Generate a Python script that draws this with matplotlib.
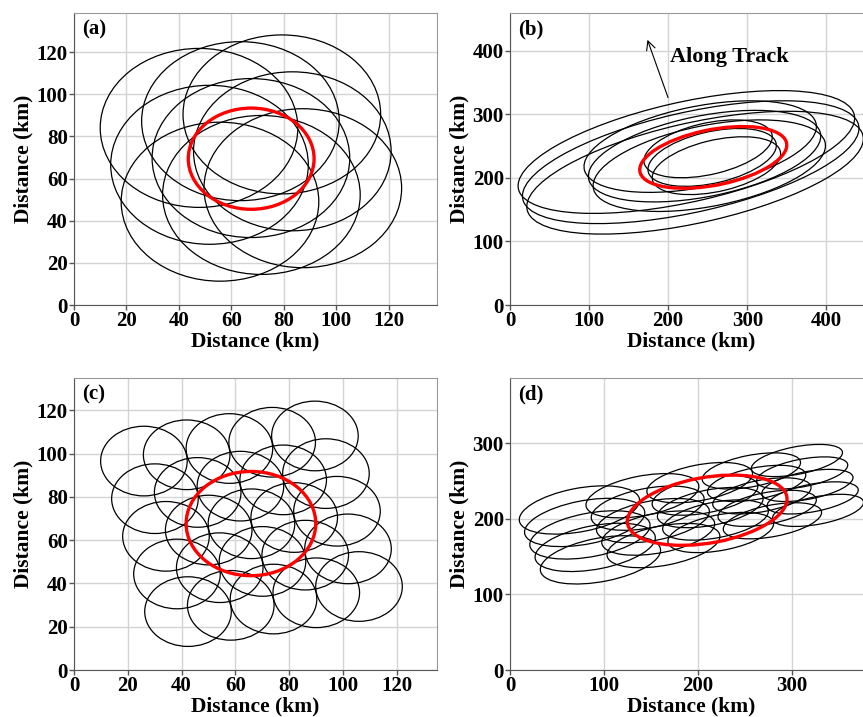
import matplotlib
matplotlib.use("Agg")
import matplotlib.pyplot as plt
from matplotlib.patches import Ellipse

plt.rcParams["font.family"] = ["Liberation Serif", "DejaVu Serif"]
plt.rcParams["font.weight"] = "bold"

# ---------------- panel (a): 3x3 circular footprints ----------------
a_x = [47.7, 63.5, 79.3, 51.7, 67.5, 83.3, 55.7, 71.5, 87.3]
a_y = [84.0, 87.2, 90.4, 66.5, 69.7, 72.9, 49.0, 52.2, 55.4]
a_r = 37.7
a_target = (67.6, 69.4, 24.0)          # x, y, radius

# ---------------- panel (b): elongated footprints ----------------
b_x = [223.0, 228.5, 234.0, 240.5, 246.0, 252.0, 250.5, 255.6, 261.0]
b_y = [240.5, 224.5, 208.0, 249.0, 234.0, 219.0, 245.5, 232.0, 219.0]
b_major = [220.3, 220.3, 220.3, 151.0, 151.0, 151.0, 84.0, 84.0, 84.0]
b_minor = [77.8, 77.8, 77.8, 63.0, 63.0, 63.0, 40.0, 40.0, 40.0]
b_angle = [16.1, 16.1, 16.1, 14.7, 14.7, 14.7, 17.0, 17.0, 17.0]
b_target = (257.0, 232.0, 95.5, 43.3, 14.9)   # x, y, semi-major, semi-minor, angle

# ---------------- panel (c): 5x5 circular footprints ----------------
c_x = [26.0, 41.9, 57.8, 73.7, 89.6,
       30.1, 46.0, 61.9, 77.8, 93.7,
       34.2, 50.1, 66.0, 81.9, 97.8,
       38.3, 54.2, 70.1, 86.0, 101.9,
       42.4, 58.3, 74.2, 90.1, 106.0]
c_y = [96.6, 99.5, 102.4, 105.3, 108.2,
       79.2, 82.1, 85.0, 87.9, 90.8,
       61.8, 64.7, 67.6, 70.5, 73.4,
       44.4, 47.3, 50.2, 53.1, 56.0,
       27.0, 29.9, 32.8, 35.7, 38.6]
c_r = 16.1
c_target = (65.8, 67.7, 24.1)

# ---------------- panel (d): 5 scan positions x 5 scan lines ----------------
d_x = [73.9, 141.0, 202.0, 257.0, 305.5,
       79.5, 146.6, 207.6, 262.6, 311.1,
       85.1, 152.2, 213.2, 268.2, 316.7,
       90.7, 157.8, 218.8, 273.8, 322.3,
       96.3, 163.4, 224.4, 279.4, 327.9]
d_y = [211.8, 230.7, 248.0, 263.5, 277.3,
       195.3, 214.2, 231.5, 247.0, 260.8,
       178.8, 197.7, 215.0, 230.5, 244.3,
       162.3, 181.2, 198.5, 214.0, 227.8,
       145.8, 164.7, 182.0, 197.5, 211.3]
d_major = [65.6, 61.6, 57.7, 53.7, 49.8]     # per scan position
d_minor = [28.6, 26.0, 23.4, 20.7, 18.1]
d_angle = 14.0
d_target = (210.0, 211.5, 86.7, 43.2, 13.2)

labels = ["(a)", "(b)", "(c)", "(d)"]
limits = [138.5, 459.0, 135.0, 386.5]
tick_steps = [20, 100, 20, 100]
tick_max = [120, 400, 120, 300]

W, H = 863, 717
fig = plt.figure(figsize=(W / 100, H / 100), dpi=100)

boxes = [(74, 13), (510, 13), (74, 378), (510, 378)]   # left, top in pixels
aw, ah = 363, 292
axes = []
for (l, t) in boxes:
    axes.append(fig.add_axes([l / W, 1 - (t + ah) / H, aw / W, ah / H]))

BLACK_LW = 0.9
RED_LW = 2.4


def style(ax, lim, step, tmax, label):
    ax.set_xlim(0, lim)
    ax.set_ylim(0, lim)
    ticks = list(range(0, tmax + 1, step))
    ax.set_xticks(ticks)
    ax.set_yticks(ticks)
    ax.grid(True, color="#d4d4d4", lw=1.0)
    ax.set_axisbelow(True)
    ax.tick_params(labelsize=15, length=3.5, width=1, color="#555555", pad=1)
    for s in ("left", "bottom"):
        ax.spines[s].set_color("#555555")
    for s in ("top", "right"):
        ax.spines[s].set_color("#999999")
    for lab in ax.get_xticklabels() + ax.get_yticklabels():
        lab.set_fontweight("bold")
    ax.set_xlabel("Distance (km)", fontsize=15.5, fontweight="bold", labelpad=0.5)
    ax.set_ylabel("Distance (km)", fontsize=15.5, fontweight="bold", labelpad=2)
    ax.text(0.022, 0.978, label, transform=ax.transAxes, ha="left", va="top",
            fontsize=15, fontweight="bold")


# (a)
ax = axes[0]
for x, y in zip(a_x, a_y):
    ax.add_patch(Ellipse((x, y), 2 * a_r, 2 * a_r, fill=False, ec="black", lw=BLACK_LW))
ax.add_patch(Ellipse(a_target[:2], 2 * a_target[2], 2 * a_target[2], fill=False,
                     ec="red", lw=RED_LW))

# (b)
ax = axes[1]
for x, y, ma, mi, an in zip(b_x, b_y, b_major, b_minor, b_angle):
    ax.add_patch(Ellipse((x, y), 2 * ma, 2 * mi, angle=an, fill=False, ec="black", lw=BLACK_LW))
ax.add_patch(Ellipse(b_target[:2], 2 * b_target[2], 2 * b_target[3], angle=b_target[4],
                     fill=False, ec="red", lw=RED_LW))
ax.annotate("", xy=(172.6, 421.0), xytext=(201.0, 322.0),
            arrowprops=dict(arrowstyle="->", lw=0.8, color="black", mutation_scale=16))
ax.text(202.0, 390.0, "Along Track", fontsize=16, fontweight="bold", ha="left", va="center")

# (c)
ax = axes[2]
for x, y in zip(c_x, c_y):
    ax.add_patch(Ellipse((x, y), 2 * c_r, 2 * c_r, fill=False, ec="black", lw=BLACK_LW))
ax.add_patch(Ellipse(c_target[:2], 2 * c_target[2], 2 * c_target[2], fill=False,
                     ec="red", lw=RED_LW))

# (d)
ax = axes[3]
for k, (x, y) in enumerate(zip(d_x, d_y)):
    j = k % 5
    ax.add_patch(Ellipse((x, y), 2 * d_major[j], 2 * d_minor[j], angle=d_angle, fill=False,
                         ec="black", lw=BLACK_LW))
ax.add_patch(Ellipse(d_target[:2], 2 * d_target[2], 2 * d_target[3], angle=d_target[4],
                     fill=False, ec="red", lw=RED_LW))

for ax, lab, lim, st, tm in zip(axes, labels, limits, tick_steps, tick_max):
    style(ax, lim, st, tm, lab)

fig.savefig("out.png", dpi=100)
